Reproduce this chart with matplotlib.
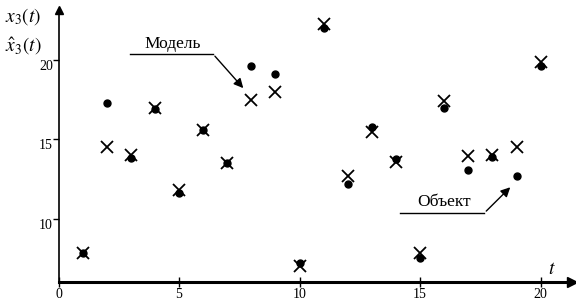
import matplotlib.pyplot as plt

plt.rcParams['font.family'] = ['Liberation Serif', 'DejaVu Serif']
plt.rcParams['mathtext.fontset'] = 'stix'

# Dados
t = [1, 2, 3, 4, 5, 6, 7, 8, 9, 10, 11, 12, 13, 14, 15, 16, 17, 18, 19, 20]
objekt = [7.8, 17.3, 13.8, 16.9, 11.6, 15.6, 13.5, 19.6, 19.1, 7.2,
          22.0, 12.2, 15.8, 13.75, 7.5, 17.0, 13.05, 13.9, 12.7, 19.6]
model = [7.8, 14.5, 14.0, 17.0, 11.8, 15.6, 13.5, 17.5, 18.0, 7.0,
         22.3, 12.7, 15.45, 13.55, 7.8, 17.4, 13.95, 14.0, 14.5, 19.9]
x_ticks = [0, 5, 10, 15, 20]
y_ticks = [10, 15, 20]

fig = plt.figure(figsize=(5.76, 3.04), dpi=100)
ax = fig.add_axes([0.1016, 0.0724, 0.8915, 0.8947])

ax.plot(t, objekt, 'o', color='black', markersize=5, clip_on=False)
ax.plot(t, model, 'x', color='black', markersize=8, markeredgewidth=1.3, clip_on=False)

ax.set_xlim(0, 21.3)
ax.set_ylim(6, 23.16)

# eixos com setas
for s in ['top', 'right']:
    ax.spines[s].set_visible(False)
ax.spines['bottom'].set_linewidth(2.2)
ax.spines['left'].set_linewidth(1.2)
ax.plot(1, 0, '>', color='black', markersize=7, transform=ax.transAxes, clip_on=False)
ax.plot(0, 1, '^', color='black', markersize=6, transform=ax.transAxes, clip_on=False)

ax.set_xticks(x_ticks)
ax.set_yticks(y_ticks)
ax.tick_params(axis='x', direction='inout', length=7, width=1, labelsize=10, pad=1)
ax.tick_params(axis='y', direction='out', length=4, width=1, labelsize=10, pad=0)
for lbl in ax.get_yticklabels():
    lbl.set_verticalalignment('top')

# legendas das series
ax.text(4.75, 21.0, 'Модель', fontsize=12.5, ha='center', va='center')
ax.plot([2.97, 6.41], [20.38, 20.38], color='black', lw=1, clip_on=False)
ax.annotate('', xy=(7.74, 18.1), xytext=(6.41, 20.38),
            arrowprops=dict(arrowstyle='-|>', color='black', lw=1, mutation_scale=14))

ax.text(16.0, 11.04, 'Объект', fontsize=12.5, ha='center', va='center')
ax.plot([14.17, 17.66], [10.35, 10.35], color='black', lw=1, clip_on=False)
ax.annotate('', xy=(18.82, 12.1), xytext=(17.66, 10.35),
            arrowprops=dict(arrowstyle='-|>', color='black', lw=1, mutation_scale=14))

fig.text(5 / 576, 1 - 17 / 304, r'$x_3(t)$', fontsize=14, ha='left', va='center')
fig.text(5 / 576, 1 - 46 / 304, r'$\hat{x}_3(t)$', fontsize=14, ha='left', va='center')
fig.text(552 / 576, 1 - 270 / 304, r'$t$', fontsize=14, ha='center', va='center')

fig.savefig('out.png', dpi=100)
